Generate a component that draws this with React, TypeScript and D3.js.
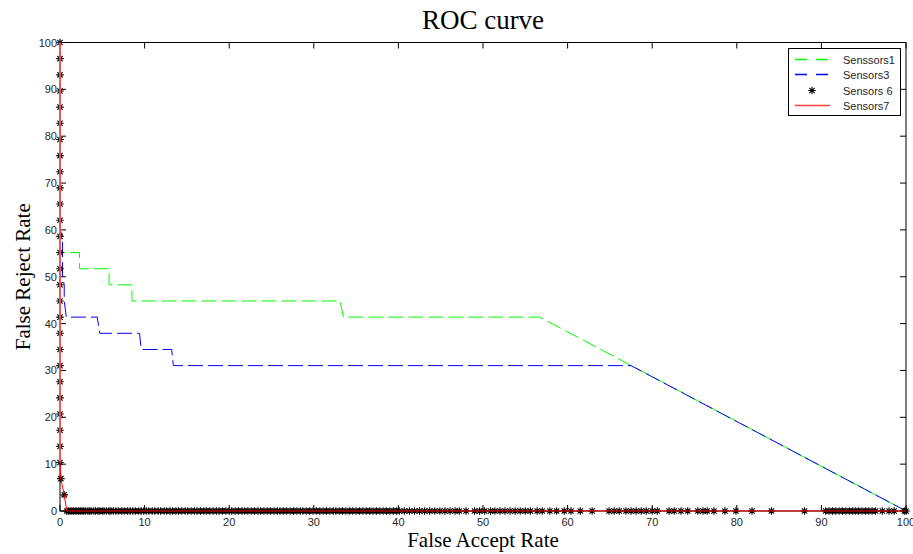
import React from 'react';
import * as d3 from 'd3';

// FRR (%) against FAR (%) for each sensor set
const s1Far = [0, 0, 2.3, 2.3, 5.8, 5.8, 8.5, 8.5, 33.1, 33.5, 56.7, 100];
const s1Frr = [100, 55.17, 55.17, 51.72, 51.72, 48.28, 48.28, 44.83, 44.83, 41.38, 41.38, 0];

const s3Far = [0, 0, 0.3, 0.3, 0.5, 0.5, 0.75, 4.4, 4.7, 9.4, 9.6, 13.2, 13.4, 67.5, 100];
const s3Frr = [100, 60.1, 58.6, 50, 48.28, 44.83, 41.38, 41.38, 37.93, 37.93, 34.48, 34.48, 31.03, 31.03, 0];

// Sensors 6: points at FAR = 0, the knee, then points at FRR = 0
const s6FrrAtZero = [100, 96.55, 93.1, 89.66, 86.21, 82.76, 79.31, 75.86, 72.41, 68.97, 65.52, 62.07,
  58.62, 55.17, 51.72, 48.28, 44.83, 41.38, 37.93, 34.48, 31.03, 27.59, 24.14, 20.69, 17.24, 13.79, 10.34];
const s6KneeFar = [0.1, 0.5];
const s6KneeFrr = [6.9, 3.45];
const s6FarAtZero = [0.8, 1.0, 1.2, 1.4, 1.6, 1.8, 2.0, 2.2, 2.4, 2.6, 2.8, 3.0, 3.3, 3.5, 3.7, 4.0, 4.2, 4.5, 4.7,
  5.0, 5.2, 5.5, 5.8, 6.0, 6.3, 6.6, 6.9, 7.3, 7.6, 8.0, 8.3, 8.6, 8.9, 9.3, 9.6, 9.9, 10.2, 10.5, 10.9, 11.2,
  11.6, 11.9, 12.3, 12.6, 13.0, 13.3, 13.7, 14.0, 14.4, 14.8, 15.1, 15.5, 15.9, 16.2, 16.6, 17.0, 17.3, 17.7,
  18.1, 18.5, 18.8, 19.2, 19.6, 20.0, 20.3, 20.7, 21.1, 21.5, 21.8, 22.2, 22.6, 23.0, 23.4, 23.7, 24.1, 24.5,
  24.9, 25.3, 25.7, 26.0, 26.4, 26.8, 27.2, 27.6, 28.0, 28.4, 28.7, 29.1, 29.5, 29.9, 30.3, 30.7, 31.1, 31.5,
  31.9, 32.3, 32.6, 33.0, 33.4, 33.8, 34.2, 34.6, 35.0, 35.4, 35.8, 36.2, 36.6, 37.0, 37.4, 37.8, 38.2, 38.6,
  39.0, 39.4, 39.8, 40.1, 40.7, 41.3, 41.9, 42.5, 43.1, 43.7, 44.3, 44.9, 45.5, 46.1, 46.7, 47.2, 48.0, 49.0,
  49.6, 50.2, 50.9, 51.4, 52.0, 52.6, 53.2, 53.8, 54.4, 55.0, 55.6, 56.4, 57.0, 57.9, 58.7, 59.6, 60.4, 61.5,
  62.9, 64.9, 65.5, 66.1, 66.9, 67.5, 68.1, 68.7, 69.3, 70.0, 70.6, 72.0, 72.6, 73.4, 74.2, 75.4, 76.0, 76.5,
  77.3, 78.6, 79.9, 81.8, 84.1, 88.0, 90.5, 90.9, 91.3, 91.7, 92.1, 92.5, 92.9, 93.3, 93.7, 94.0, 94.4, 94.8,
  95.2, 95.6, 96.0, 96.4, 97.2, 98.0, 98.6, 99.8, 100];

const s7Far = [0, 0, 0.1, 0.5, 0.8, 100];
const s7Frr = [100, 10.34, 6.9, 3.45, 0, 0];

const ticks = [0, 10, 20, 30, 40, 50, 60, 70, 80, 90, 100];
const legendNames = ['Senssors1', 'Sensors3', 'Sensors 6', 'Sensors7'];

const W = 913;
const H = 554;
const plot = { left: 60, right: 906, top: 42.5, bottom: 511 };

const Star = ({ x, y, r = 3.8 }: { x: number; y: number; r?: number }) => {
  const d = r * 0.7;
  return (
    <path
      d={`M${x - r},${y}H${x + r}M${x},${y - r}V${y + r}M${x - d},${y - d}L${x + d},${y + d}M${x - d},${y + d}L${x + d},${y - d}`}
      stroke="#000"
      strokeWidth={1.1}
      fill="none"
    />
  );
};

export default function App() {
  const x = d3.scaleLinear().domain([0, 100]).range([plot.left, plot.right]);
  const y = d3.scaleLinear().domain([0, 100]).range([plot.bottom, plot.top]);

  const line = d3.line<[number, number]>()
    .x(d => x(d[0]))
    .y(d => y(d[1]));

  const zip = (a: number[], b: number[]) => a.map((v, i) => [v, b[i]] as [number, number]);

  const s6Points: [number, number][] = [
    ...s6FrrAtZero.map(v => [0, v] as [number, number]),
    ...zip(s6KneeFar, s6KneeFrr),
    ...s6FarAtZero.map(v => [v, 0] as [number, number]),
  ];

  const tickFont = { fontFamily: 'Arial, "Liberation Sans", sans-serif', fontSize: 11, fill: '#262626' };
  const serif = '"Palatino Linotype", "Book Antiqua", "Liberation Serif", serif';

  const lrows = [59.5, 74.5, 90.5, 105.5];
  const legendStyles = [
    { stroke: '#00ff00', dash: '12,9' },
    { stroke: '#0000ff', dash: '12,9' },
    null,
    { stroke: '#ff4040', dash: undefined },
  ];

  return (
    <svg width={W} height={H} style={{ position: 'absolute', left: 0, top: 0, background: '#fff' }}>
      <rect x={0} y={0} width={W} height={H} fill="#fff" />

      {/* frame */}
      <rect x={plot.left} y={plot.top} width={plot.right - plot.left} height={plot.bottom - plot.top}
        fill="none" stroke="#000" strokeWidth={1} />

      {/* ticks on all four sides, pointing inward */}
      {ticks.map(t => (
        <g key={'t' + t} stroke="#000" strokeWidth={1}>
          <line x1={x(t)} x2={x(t)} y1={plot.bottom} y2={plot.bottom - 6} />
          <line x1={x(t)} x2={x(t)} y1={plot.top} y2={plot.top + 6} />
          <line y1={y(t)} y2={y(t)} x1={plot.left} x2={plot.left + 6} />
          <line y1={y(t)} y2={y(t)} x1={plot.right} x2={plot.right - 6} />
        </g>
      ))}
      {ticks.map(t => (
        <text key={'xl' + t} x={x(t)} y={plot.bottom + 15} textAnchor="middle" {...tickFont}>{t}</text>
      ))}
      {ticks.map(t => (
        <text key={'yl' + t} x={plot.left - 3} y={y(t) + 4} textAnchor="end" {...tickFont}>{t}</text>
      ))}

      {/* series */}
      <path d={line(zip(s1Far, s1Frr)) ?? ''} fill="none" stroke="#00ff00" strokeWidth={1} strokeDasharray="15,5" />
      <path d={line(zip(s3Far, s3Frr)) ?? ''} fill="none" stroke="#0000ff" strokeWidth={1} strokeDasharray="15,5" />
      {s6Points.map((p, i) => <Star key={'s' + i} x={x(p[0])} y={y(p[1])} />)}
      <path d={line(zip(s7Far, s7Frr)) ?? ''} fill="none" stroke="#ff0000" strokeWidth={1} />
      {/* the red vertical looks wider and paler in the original */}
      <path d={line(zip(s7Far.slice(0, 2), s7Frr.slice(0, 2))) ?? ''} fill="none" stroke="#ff6060" strokeOpacity={0.8} strokeWidth={2} />

      {/* titles */}
      <text x={(plot.left + plot.right) / 2} y={29} textAnchor="middle" fontFamily={serif} fontSize={27} fill="#000">ROC curve</text>
      <text x={(plot.left + plot.right) / 2} y={547} textAnchor="middle" fontFamily={serif} fontSize={21} fill="#000">False Accept Rate</text>
      <text transform={`translate(30,${(plot.top + plot.bottom) / 2}) rotate(-90)`} textAnchor="middle" fontFamily={serif} fontSize={21} fill="#000">False Reject Rate</text>

      {/* legend */}
      <rect x={788.5} y={48.5} width={112} height={67} fill="#fff" stroke="#000" strokeWidth={1} />
      {legendStyles.map((s, i) => s
        ? <path key={'ll' + i} d={`M795,${lrows[i]}H830`} fill="none" stroke={s.stroke} strokeWidth={1.3} strokeDasharray={s.dash} />
        : <Star key={'ll' + i} x={812} y={lrows[i]} />)}
      {legendNames.map((n, i) => (
        <text key={n} x={843} y={lrows[i] + 4} {...tickFont}>{n}</text>
      ))}
    </svg>
  );
}
